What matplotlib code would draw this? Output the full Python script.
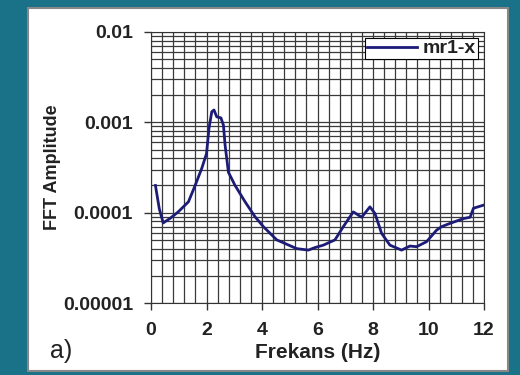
import numpy as np
import matplotlib
matplotlib.use("Agg")
import matplotlib.pyplot as plt
from matplotlib.patches import Rectangle
from matplotlib.ticker import MultipleLocator, LogLocator, FixedFormatter, FixedLocator

plt.rcParams['font.family'] = ['Liberation Sans', 'DejaVu Sans']

# spectrum
freq = [0.16, 0.3, 0.44, 0.7, 0.98, 1.35, 1.59, 1.83, 2.0, 2.09, 2.19, 2.27, 2.37,
        2.52, 2.61, 2.67, 2.79, 3.03, 3.39, 3.75, 4.05, 4.53, 5.25, 5.67, 5.9,
        6.21, 6.63, 6.93, 7.29, 7.59, 7.89, 8.07, 8.31, 8.61, 9.03, 9.33, 9.57,
        9.93, 10.29, 10.47, 10.77, 11.26, 11.5, 11.62, 11.98]
amp = [2.0e-4, 1.1e-4, 7.7e-5, 8.7e-5, 1.02e-4, 1.32e-4, 2.0e-4, 3.1e-4, 4.5e-4,
       8.6e-4, 1.31e-3, 1.37e-3, 1.15e-3, 1.12e-3, 9.3e-4, 5.6e-4, 2.8e-4, 2.0e-4,
       1.32e-4, 9.0e-5, 7.0e-5, 5.0e-5, 4.0e-5, 3.85e-5, 4.1e-5, 4.37e-5, 5.0e-5,
       7.0e-5, 1.02e-4, 8.9e-5, 1.16e-4, 9.8e-5, 5.9e-5, 4.37e-5, 3.85e-5, 4.27e-5,
       4.2e-5, 4.77e-5, 6.4e-5, 7.0e-5, 7.6e-5, 8.6e-5, 8.9e-5, 1.12e-4, 1.21e-4]
ytick_vals = [1e-5, 1e-4, 1e-3, 1e-2]
ytick_labels = ['0.00001', '0.0001', '0.001', '0.01']

fig = plt.figure(figsize=(5.2, 3.75), dpi=100)
fig.patch.set_facecolor('#1a7288')
fig.patches.append(Rectangle((28/520, 4/375), 480/520, 1 - 12/375, transform=fig.transFigure,
                             facecolor='white', edgecolor='#888888', lw=1.5, zorder=-10))

ax = fig.add_axes([151/520, 1 - 303/375, 333/520, 271/375])
ax.plot(freq, amp, color='#1c1c78', lw=2, label='mr1-x', zorder=3)
ax.set_yscale('log')
ax.set_xlim(0, 12)
ax.set_ylim(1e-5, 1e-2)

ax.xaxis.set_major_locator(MultipleLocator(2))
ax.xaxis.set_minor_locator(MultipleLocator(0.4))
ax.yaxis.set_major_locator(FixedLocator(ytick_vals))
ax.yaxis.set_major_formatter(FixedFormatter(ytick_labels))
ax.yaxis.set_minor_locator(LogLocator(base=10, subs=np.arange(2, 10)))
ax.yaxis.set_minor_formatter(plt.NullFormatter())

ax.grid(which='both', color='#3a3a3a', lw=0.9)
ax.tick_params(which='major', direction='out', length=5, width=1, color='#333333',
               labelsize=14, labelcolor='#222222')
ax.tick_params(axis='x', pad=9)
ax.tick_params(axis='y', pad=8)
ax.tick_params(which='minor', length=0)
for lab in ax.get_xticklabels() + ax.get_yticklabels():
    lab.set_fontweight('bold')
for s in ax.spines.values():
    s.set_color('#333333')

ax.set_xlabel('Frekans (Hz)', fontsize=15, fontweight='bold', color='#222222', va='center')
ax.xaxis.set_label_coords(0.5, -0.181)
ax.set_ylabel('FFT Amplitude', fontsize=13, fontweight='bold', color='#222222', va='center')
ax.yaxis.set_label_coords(-0.297, 0.5)

leg = ax.legend(loc='upper right', prop={'weight': 'bold', 'size': 14},
                frameon=True, fancybox=False, framealpha=1, edgecolor='black',
                borderpad=0.1, handlelength=2.6, borderaxespad=0.3, handletextpad=0.3)
leg.get_frame().set_linewidth(0.8)
for t in leg.get_texts():
    t.set_color('#222222')

fig.text(50/520, 1 - 351/375, 'a)', fontsize=18, va='center', ha='left', color='#222222')

fig.savefig('out.png', dpi=100, facecolor=fig.get_facecolor())
